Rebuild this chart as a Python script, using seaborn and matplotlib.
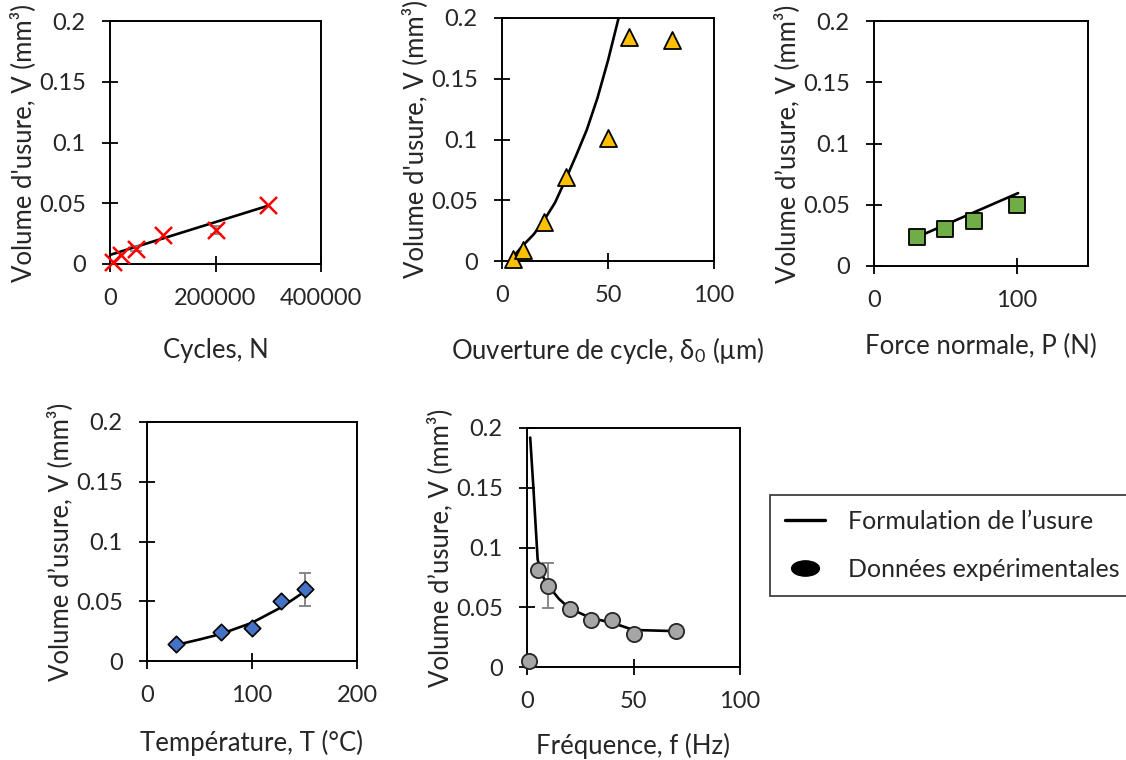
import numpy as np
import pandas as pd
import matplotlib
matplotlib.use("Agg")
import matplotlib.pyplot as plt
import seaborn as sns
from matplotlib.path import Path
from matplotlib.transforms import Affine2D
from matplotlib.lines import Line2D

# ---------------- data ----------------
y_ticks = [0, 0.05, 0.1, 0.15, 0.2]
y_tick_labels = ["0", "0.05", "0.1", "0.15", "0.2"]

# Panel 1 : cycles
cyc_N = [5000, 20000, 50000, 100000, 200000, 300000]
cyc_V = [0.002, 0.0076, 0.0125, 0.0235, 0.028, 0.0485]
cyc_err_N = [50000, 200000]
cyc_err_V = [0.0125, 0.028]
cyc_err = [0.002, 0.003]
cyc_fit_N = [0, 300000]
cyc_fit_V = [0.0075, 0.048]
cyc_xticks = [0, 200000, 400000]
cyc_xticklabels = ["0", "200000", "400000"]

# Panel 2 : ouverture de cycle
ouv_d = [5, 10, 20, 30, 50, 60, 80]
ouv_V = [0.002, 0.009, 0.032, 0.069, 0.101, 0.184, 0.182]
ouv_fit_d = [6, 10, 15, 20, 25, 30, 35, 40, 45, 50, 55]
ouv_fit_V = [0.005, 0.013, 0.022, 0.034, 0.048, 0.067, 0.087, 0.108, 0.134, 0.165, 0.2]
ouv_xticks = [0, 50, 100]
ouv_xticklabels = ["0", "50", "100"]

# Panel 3 : force normale
force_P = [30, 50, 70, 100]
force_V = [0.0235, 0.0305, 0.0365, 0.0495]
force_fit_P = [31, 101]
force_fit_V = [0.024, 0.0595]
force_xticks = [0, 100]
force_xticklabels = ["0", "100"]

# Panel 4 : température
temp_T = [28, 70, 100, 128, 150]
temp_V = [0.014, 0.024, 0.028, 0.0505, 0.06]
temp_err_T = [150]
temp_err_V = [0.06]
temp_err = [0.014]
temp_fit_T = [28, 50, 70, 100, 128, 150]
temp_fit_V = [0.0135, 0.018, 0.0225, 0.032, 0.045, 0.058]
temp_xticks = [0, 100, 200]
temp_xticklabels = ["0", "100", "200"]

# Panel 5 : fréquence
freq_f = [1, 5, 10, 20, 30, 40, 50, 70]
freq_V = [0.005, 0.081, 0.068, 0.0485, 0.039, 0.039, 0.0275, 0.030]
freq_err_f = [10]
freq_err_V = [0.068]
freq_err = [0.019]
freq_fit_f = [1.5, 3, 5, 7, 10, 15, 20, 30, 40, 50, 70]
freq_fit_V = [0.192, 0.15, 0.09, 0.077, 0.068, 0.057, 0.049, 0.041, 0.037, 0.031, 0.030]
freq_xticks = [0, 50, 100]
freq_xticklabels = ["0", "50", "100"]

legend_labels = ["Formulation de l\u2019usure", "Donn\u00e9es exp\u00e9rimentales"]

# ---------------- style ----------------
sns.set_style("ticks")
plt.rcParams["font.family"] = ["Lato", "DejaVu Sans"]
plt.rcParams["mathtext.fontset"] = "custom"
plt.rcParams["mathtext.rm"] = "Lato"
plt.rcParams["mathtext.it"] = "Lato:italic"
plt.rcParams["mathtext.bf"] = "Lato:bold"
TXT = "#262626"
plt.rcParams["text.color"] = TXT
plt.rcParams["axes.labelcolor"] = TXT

TICK_FS = 17
LABEL_FS = 18.5
LEG_FS = 18

W, H = 1126, 760
fig = plt.figure(figsize=(W / 100, H / 100), dpi=100)


def px_axes(l, t, r, b):
    return fig.add_axes([l / W, 1 - b / H, (r - l) / W, (b - t) / H])


def style(ax, xlim, xticks, xticklabels, xlabel, ylabel, xlabelpad):
    ax.set_xlim(*xlim)
    ax.set_ylim(0, 0.2)
    ax.set_xticks(xticks)
    ax.set_xticklabels(xticklabels)
    ax.set_yticks(y_ticks)
    ax.set_yticklabels(y_tick_labels)
    ax.tick_params(direction="inout", length=11, width=1.3, pad=12,
                   labelsize=TICK_FS, color="black", labelcolor=TXT)
    for s in ax.spines.values():
        s.set_linewidth(1.4)
        s.set_color("black")
        s.set_visible(True)
    ax.set_xlabel(xlabel, fontsize=LABEL_FS, labelpad=xlabelpad)
    ax.set_ylabel(ylabel, fontsize=LABEL_FS, labelpad=2)


LW = 1.9
ERRC = "#7f7f7f"

# Panel 1
ax1 = px_axes(110, 21, 321, 264)
sns.lineplot(x=cyc_fit_N, y=cyc_fit_V, ax=ax1, color="black", lw=LW, sort=False, estimator=None)
ax1.errorbar(cyc_err_N, cyc_err_V, yerr=cyc_err, fmt="none", ecolor=ERRC, elinewidth=1.2, capsize=4, capthick=1.2, zorder=3)
sns.scatterplot(x=cyc_N, y=cyc_V, ax=ax1, marker="x", s=150, color="#ff0000", linewidth=1.8, clip_on=False, zorder=4)
style(ax1, (0, 400000), cyc_xticks, cyc_xticklabels, "Cycles, N", "Volume d'usure, V (mm\u00b3)", 21)

# Panel 2
ax2 = px_axes(502, 18, 714, 261)
sns.lineplot(x=ouv_fit_d, y=ouv_fit_V, ax=ax2, color="black", lw=LW, sort=False, estimator=None)
sns.scatterplot(x=ouv_d, y=ouv_V, ax=ax2, marker="^", s=150, color="#ffc000", edgecolor="black", linewidth=1.3, clip_on=False, zorder=4)
style(ax2, (0, 100), ouv_xticks, ouv_xticklabels, "Ouverture de cycle, \u03b4$_\\mathrm{0}$ (\u00b5m)", "Volume d'usure, V (mm\u00b3)", 21)

# Panel 3
ax3 = px_axes(874, 21, 1088, 266)
sns.lineplot(x=force_fit_P, y=force_fit_V, ax=ax3, color="black", lw=LW, sort=False, estimator=None)
sns.scatterplot(x=force_P, y=force_V, ax=ax3, marker="s", s=140, color="#70ad47", edgecolor="black", linewidth=1.3, clip_on=False, zorder=4)
style(ax3, (0, 150), force_xticks, force_xticklabels, "Force normale, P (N)", "Volume d\u2019usure, V (mm\u00b3)", 16)

# Panel 4
ax4 = px_axes(147, 422, 357, 661)
sns.lineplot(x=temp_fit_T, y=temp_fit_V, ax=ax4, color="black", lw=LW, sort=False, estimator=None)
ax4.errorbar(temp_err_T, temp_err_V, yerr=temp_err, fmt="none", ecolor=ERRC, elinewidth=1.3, capsize=4.3, capthick=1.3, zorder=3)
sns.scatterplot(x=temp_T, y=temp_V, ax=ax4, marker="D", s=70, color="#4472c4", edgecolor="black", linewidth=1.2, clip_on=False, zorder=4)
style(ax4, (0, 200), temp_xticks, temp_xticklabels, "Temp\u00e9rature, T (\u00b0C)", "Volume d\u2019usure, V (mm\u00b3)", 17)

# Panel 5
ax5 = px_axes(527, 428, 740, 667)
sns.lineplot(x=freq_fit_f, y=freq_fit_V, ax=ax5, color="black", lw=LW, sort=False, estimator=None)
ax5.errorbar(freq_err_f, freq_err_V, yerr=freq_err, fmt="none", ecolor=ERRC, elinewidth=1.3, capsize=4.3, capthick=1.3, zorder=3)
sns.scatterplot(x=freq_f, y=freq_V, ax=ax5, marker="o", s=120, color="#a6a6a6", edgecolor="#262626", linewidth=1.3, clip_on=False, zorder=4)
style(ax5, (0, 100), freq_xticks, freq_xticklabels, "Fr\u00e9quence, f (Hz)", "Volume d\u2019usure, V (mm\u00b3)", 15)

# Legend
ellipse = Path.unit_circle().transformed(Affine2D().scale(1.0, 0.55))
handles = [
    Line2D([], [], color="black", lw=2.4),
    Line2D([], [], ls="none", marker=ellipse, markersize=20, color="black"),
]
leg = fig.legend(handles, legend_labels, loc="upper left",
                 bbox_to_anchor=(770 / W, 1 - 495 / H), borderaxespad=0,
                 frameon=True, fancybox=False, edgecolor="#404040", framealpha=1,
                 fontsize=LEG_FS, borderpad=0.6, handlelength=1.6, handletextpad=0.9,
                 labelspacing=1.0)
leg.get_frame().set_linewidth(1.3)

fig.savefig("out.png", dpi=100)
